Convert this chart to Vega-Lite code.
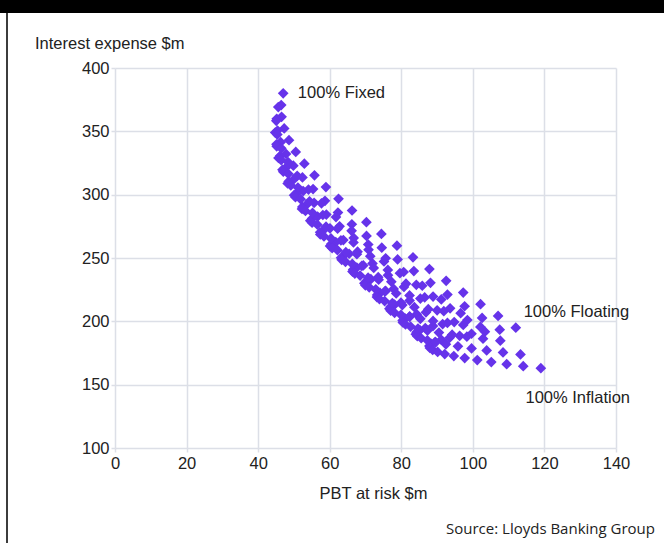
{
  "$schema": "https://vega.github.io/schema/vega-lite/v6.json",
  "padding": 0,
  "background": "white",
  "config": {"view": {"stroke": null}},
  "datasets": {
    "pts": [
      {"x":47.0,"y":380},{"x":46.45,"y":370.75},{"x":46.55,"y":361.5},{"x":47.28,"y":352.25},{"x":48.62,"y":343},{"x":50.51,"y":333.75},{"x":52.91,"y":324.5},{"x":55.74,"y":315.25},{"x":58.94,"y":306},{"x":62.46,"y":296.75},{"x":66.24,"y":287.5},{"x":70.25,"y":278.25},{"x":74.44,"y":269},{"x":78.79,"y":259.75},{"x":83.27,"y":250.5},{"x":87.86,"y":241.25},{"x":92.54,"y":232},{"x":97.31,"y":222.75},{"x":102.15,"y":213.5},{"x":107.05,"y":204.25},{"x":112.0,"y":195},
      {"x":45.63,"y":369.15},{"x":45.2,"y":359.9},{"x":45.43,"y":350.65},{"x":46.3,"y":341.4},{"x":47.79,"y":332.15},{"x":49.84,"y":322.9},{"x":52.38,"y":313.65},{"x":55.35,"y":304.4},{"x":58.68,"y":295.15},{"x":62.3,"y":285.9},{"x":66.19,"y":276.65},{"x":70.28,"y":267.4},{"x":74.55,"y":258.15},{"x":78.97,"y":248.9},{"x":83.51,"y":239.65},{"x":88.15,"y":230.4},{"x":92.89,"y":221.15},{"x":97.7,"y":211.9},{"x":102.58,"y":202.65},{"x":107.51,"y":193.4},
      {"x":45.07,"y":358.3},{"x":44.77,"y":349.05},{"x":45.13,"y":339.8},{"x":46.14,"y":330.55},{"x":47.76,"y":321.3},{"x":49.93,"y":312.05},{"x":52.58,"y":302.8},{"x":55.64,"y":293.55},{"x":59.06,"y":284.3},{"x":62.76,"y":275.05},{"x":66.7,"y":265.8},{"x":70.85,"y":256.55},{"x":75.17,"y":247.3},{"x":79.62,"y":238.05},{"x":84.2,"y":228.8},{"x":88.88,"y":219.55},{"x":93.64,"y":210.3},{"x":98.47,"y":201.05},{"x":103.37,"y":191.8},
      {"x":45.36,"y":347.45},{"x":45.19,"y":338.2},{"x":45.68,"y":328.95},{"x":46.81,"y":319.7},{"x":48.53,"y":310.45},{"x":50.78,"y":301.2},{"x":53.5,"y":291.95},{"x":56.62,"y":282.7},{"x":60.07,"y":273.45},{"x":63.81,"y":264.2},{"x":67.78,"y":254.95},{"x":71.95,"y":245.7},{"x":76.28,"y":236.45},{"x":80.75,"y":227.2},{"x":85.33,"y":217.95},{"x":90.02,"y":208.7},{"x":94.79,"y":199.45},{"x":99.63,"y":190.2},
      {"x":46.47,"y":336.6},{"x":46.43,"y":327.35},{"x":47.03,"y":318.1},{"x":48.25,"y":308.85},{"x":50.04,"y":299.6},{"x":52.35,"y":290.35},{"x":55.1,"y":281.1},{"x":58.23,"y":271.85},{"x":61.69,"y":262.6},{"x":65.43,"y":253.35},{"x":69.39,"y":244.1},{"x":73.55,"y":234.85},{"x":77.87,"y":225.6},{"x":82.32,"y":216.35},{"x":86.89,"y":207.1},{"x":91.56,"y":197.85},{"x":96.32,"y":188.6},
      {"x":48.35,"y":325.75},{"x":48.43,"y":316.5},{"x":49.13,"y":307.25},{"x":50.42,"y":298},{"x":52.25,"y":288.75},{"x":54.57,"y":279.5},{"x":57.32,"y":270.25},{"x":60.43,"y":261},{"x":63.87,"y":251.75},{"x":67.57,"y":242.5},{"x":71.5,"y":233.25},{"x":75.62,"y":224},{"x":79.9,"y":214.75},{"x":84.32,"y":205.5},{"x":88.86,"y":196.25},{"x":93.49,"y":187},
      {"x":50.91,"y":314.9},{"x":51.11,"y":305.65},{"x":51.89,"y":296.4},{"x":53.22,"y":287.15},{"x":55.07,"y":277.9},{"x":57.37,"y":268.65},{"x":60.09,"y":259.4},{"x":63.17,"y":250.15},{"x":66.55,"y":240.9},{"x":70.2,"y":231.65},{"x":74.07,"y":222.4},{"x":78.13,"y":213.15},{"x":82.35,"y":203.9},{"x":86.71,"y":194.65},{"x":91.2,"y":185.4},
      {"x":54.06,"y":304.05},{"x":54.36,"y":294.8},{"x":55.2,"y":285.55},{"x":56.56,"y":276.3},{"x":58.4,"y":267.05},{"x":60.68,"y":257.8},{"x":63.35,"y":248.55},{"x":66.36,"y":239.3},{"x":69.68,"y":230.05},{"x":73.25,"y":220.8},{"x":77.04,"y":211.55},{"x":81.03,"y":202.3},{"x":85.18,"y":193.05},{"x":89.47,"y":183.8},
      {"x":57.7,"y":293.2},{"x":58.08,"y":283.95},{"x":58.97,"y":274.7},{"x":60.35,"y":265.45},{"x":62.17,"y":256.2},{"x":64.41,"y":246.95},{"x":67.02,"y":237.7},{"x":69.96,"y":228.45},{"x":73.19,"y":219.2},{"x":76.68,"y":209.95},{"x":80.38,"y":200.7},{"x":84.28,"y":191.45},{"x":88.35,"y":182.2},
      {"x":61.75,"y":282.35},{"x":62.2,"y":273.1},{"x":63.13,"y":263.85},{"x":64.5,"y":254.6},{"x":66.3,"y":245.35},{"x":68.49,"y":236.1},{"x":71.04,"y":226.85},{"x":73.9,"y":217.6},{"x":77.04,"y":208.35},{"x":80.44,"y":199.1},{"x":84.05,"y":189.85},{"x":87.85,"y":180.6},
      {"x":66.12,"y":271.5},{"x":66.64,"y":262.25},{"x":67.59,"y":253},{"x":68.96,"y":243.75},{"x":70.73,"y":234.5},{"x":72.87,"y":225.25},{"x":75.35,"y":216},{"x":78.13,"y":206.75},{"x":81.18,"y":197.5},{"x":84.48,"y":188.25},{"x":87.99,"y":179},
      {"x":70.77,"y":260.65},{"x":71.33,"y":251.4},{"x":72.3,"y":242.15},{"x":73.67,"y":232.9},{"x":75.41,"y":223.65},{"x":77.5,"y":214.4},{"x":79.9,"y":205.15},{"x":82.6,"y":195.9},{"x":85.57,"y":186.65},{"x":88.77,"y":177.4},
      {"x":75.63,"y":249.8},{"x":76.24,"y":240.55},{"x":77.22,"y":231.3},{"x":78.58,"y":222.05},{"x":80.29,"y":212.8},{"x":82.32,"y":203.55},{"x":84.66,"y":194.3},{"x":87.28,"y":185.05},{"x":90.16,"y":175.8},
      {"x":80.67,"y":238.95},{"x":81.31,"y":229.7},{"x":82.31,"y":220.45},{"x":83.66,"y":211.2},{"x":85.33,"y":201.95},{"x":87.32,"y":192.7},{"x":89.6,"y":183.45},{"x":92.14,"y":174.2},
      {"x":85.86,"y":228.1},{"x":86.54,"y":218.85},{"x":87.54,"y":209.6},{"x":88.88,"y":200.35},{"x":90.52,"y":191.1},{"x":92.46,"y":181.85},{"x":94.68,"y":172.6},
      {"x":91.18,"y":217.25},{"x":91.88,"y":208},{"x":92.89,"y":198.75},{"x":94.21,"y":189.5},{"x":95.83,"y":180.25},{"x":97.72,"y":171},
      {"x":96.59,"y":206.4},{"x":97.31,"y":197.15},{"x":98.33,"y":187.9},{"x":99.64,"y":178.65},{"x":101.23,"y":169.4},
      {"x":102.1,"y":195.55},{"x":102.84,"y":186.3},{"x":103.86,"y":177.05},{"x":105.15,"y":167.8},
      {"x":107.67,"y":184.7},{"x":108.43,"y":175.45},{"x":109.45,"y":166.2},
      {"x":113.31,"y":173.85},{"x":114.08,"y":164.6},
      {"x":119.0,"y":163}
    ],
    "labels": [
      {"x":51.1,"y":380,"label":"100% Fixed"},
      {"x":114.2,"y":207.4,"label":"100% Floating"},
      {"x":114.7,"y":139.5,"label":"100% Inflation"}
    ]
  },
  "spacing": 0,
  "vconcat": [
    {
      "width": 664,
      "height": 13,
      "view": {"fill": "#000000", "stroke": null},
      "data": {"values": [{}]},
      "mark": {"type": "point", "size": 0, "opacity": 0},
      "encoding": {}
    },
    {
      "concat": [
        {
          "concat": [
            {
              "width": 1,
              "height": 1,
              "view": {"stroke": null},
              "data": {"values": [{}]},
              "mark": {"type": "point", "size": 0, "opacity": 0},
              "encoding": {}
            },
            {
              "width": 2,
              "height": 530,
              "view": {"fill": "#3c3c3c", "stroke": null},
              "data": {"values": [{}]},
              "mark": {"type": "point", "size": 0, "opacity": 0},
              "encoding": {}
            }
          ],
          "columns": 2,
          "spacing": 5
        },
        {
          "spacing": 7,
          "vconcat": [
            {
              "width": 501,
              "height": 1,
              "view": {"stroke": null},
              "title": {
                "text": "Interest expense $m",
                "orient": "bottom",
                "anchor": "start",
                "frame": "group",
                "dx": -80,
                "offset": 22,
                "font": "Liberation Sans",
                "fontSize": 16.5,
                "fontWeight": "normal",
                "color": "#222222"
              },
              "data": {"values": [{}]},
              "mark": {"type": "point", "size": 0, "opacity": 0},
              "encoding": {}
            },
            {
              "width": 501,
              "height": 380,
              "view": {"stroke": null},
              "title": {
                "text": "Source: Lloyds Banking Group",
                "orient": "bottom",
                "anchor": "end",
                "frame": "group",
                "dx": 39,
                "offset": 20,
                "font": "Open Sans",
                "fontSize": 15,
                "fontWeight": "normal",
                "color": "#222222"
              },
              "layer": [
                {
                  "data": {"name": "pts"},
                  "mark": {"type": "point", "shape": "diamond", "filled": true, "size": 115, "color": "#6633ea", "opacity": 1},
                  "encoding": {
                    "x": {
                      "field": "x", "type": "quantitative",
                      "scale": {"domain": [0, 140], "nice": false, "zero": false},
                      "title": "PBT at risk $m",
                      "axis": {
                        "values": [0, 20, 40, 60, 80, 100, 120, 140],
                        "grid": true, "gridColor": "#dcdfe7", "gridWidth": 1.5,
                        "domain": false, "ticks": true, "tickColor": "#dcdfe7", "tickSize": 4, "tickWidth": 1.5,
                        "labelFont": "Liberation Sans", "labelFontSize": 16.5, "labelColor": "#222222", "labelPadding": 3, "labelFlush": false,
                        "titleFont": "Liberation Sans", "titleFontSize": 16.5, "titleFontWeight": "normal", "titleColor": "#222222",
                        "titleX": 258, "titleAlign": "center", "titlePadding": 14
                      }
                    },
                    "y": {
                      "field": "y", "type": "quantitative",
                      "scale": {"domain": [100, 400], "nice": false, "zero": false},
                      "title": null,
                      "axis": {
                        "values": [100, 150, 200, 250, 300, 350, 400],
                        "grid": true, "gridColor": "#dcdfe7", "gridWidth": 1.5,
                        "domain": false, "ticks": true, "tickColor": "#dcdfe7", "tickSize": 4, "tickWidth": 1.5,
                        "labelFont": "Liberation Sans", "labelFontSize": 16.5, "labelColor": "#222222", "labelPadding": 2, "labelFlush": false
                      }
                    }
                  }
                },
                {
                  "data": {"name": "labels"},
                  "mark": {"type": "text", "align": "left", "baseline": "middle", "font": "Liberation Sans", "fontSize": 16.5, "color": "#222222"},
                  "encoding": {
                    "x": {"field": "x", "type": "quantitative"},
                    "y": {"field": "y", "type": "quantitative"},
                    "text": {"field": "label"}
                  }
                }
              ]
            }
          ]
        }
      ],
      "columns": 2,
      "spacing": 27
    }
  ]
}
